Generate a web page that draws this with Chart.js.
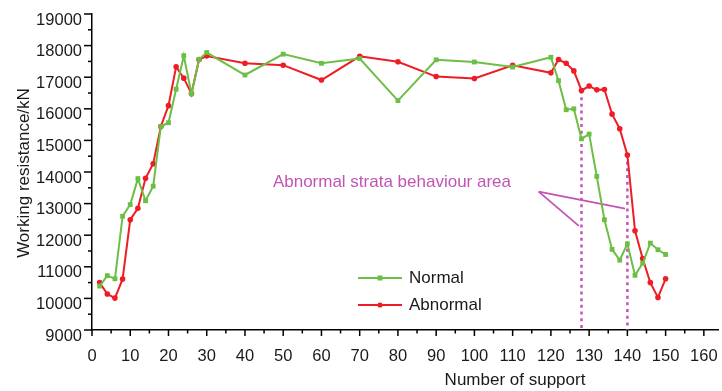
<!DOCTYPE html>
<html>
<head>
<meta charset="utf-8">
<script src="https://cdn.jsdelivr.net/npm/chart.js@4/dist/chart.umd.min.js"></script>
<style>
  html, body { margin: 0; padding: 0; background: #fff; }
  #wrap { width: 722px; height: 391px; }
</style>
</head>
<body>
<div id="wrap"><canvas id="supportChart" width="722" height="391"></canvas></div>
<script>
// support numbers (x) shared by both series
const supportNo = [2, 4, 6, 8, 10, 12, 14, 16, 18, 20, 22, 24, 26, 28, 30,
  40, 50, 60, 70, 80, 90, 100, 110, 120,
  122, 124, 126, 128, 130, 132, 134, 136, 138, 140, 142, 144, 146, 148, 150];

// working resistance, kN
const normalValues = [10390, 10720, 10620, 12600, 12970, 13790, 13090, 13550, 15440, 15560,
  16620, 17680, 16480, 17560, 17780,
  17070, 17730, 17440, 17590, 16260, 17550, 17480, 17320, 17630,
  16890, 15970, 16000, 15050, 15200, 13860, 12490, 11550, 11210, 11730,
  10730, 11110, 11750, 11540, 11390];
const abnormalValues = [10500, 10140, 10010, 10610, 12490, 12850, 13800, 14260, 15440, 16100,
  17330, 16970, 16480, 17560, 17670,
  17440, 17380, 16910, 17660, 17490, 17020, 16960, 17380, 17140,
  17560, 17440, 17200, 16580, 16720, 16600, 16610, 15830, 15370, 14540,
  12140, 11260, 10500, 10030, 10620];

// tick values
const xTicks = [0, 5, 10, 15, 20, 25, 30, 35, 40, 45, 50, 55, 60, 65, 70, 75, 80,
  85, 90, 95, 100, 105, 110, 115, 120, 125, 130, 135, 140, 145, 150, 155, 160];
const yTicks = [9000, 9500, 10000, 10500, 11000, 11500, 12000, 12500, 13000, 13500, 14000,
  14500, 15000, 15500, 16000, 16500, 17000, 17500, 18000, 18500, 19000];

// abnormal area markers (support numbers) and annotation text
const areaBounds = [128, 140];
const areaLabel = 'Abnormal strata behaviour area';
const labelAt = [47.3, 13670];
const pointerFrom = [116.8, 13380];
const pointerTo = [[139.4, 12843], [127.3, 12294]];

const seriesNames = ['Normal', 'Abnormal'];
const green = '#6cbe45';
const red = '#ee1c25';
const purple = '#c254b4';
const font17 = '17px "Liberation Sans", Arial, sans-serif';

const toXY = (vals) => vals.map((v, i) => ({ x: supportNo[i], y: v }));

Chart.defaults.font.family = '"Liberation Sans", Arial, sans-serif';
Chart.defaults.font.size = 16.5;
Chart.defaults.color = '#1a1a1a';

// tick marks, guides, legend and titles
const overlay = {
  id: 'overlay',
  beforeDatasetsDraw(chart) {
    const { ctx, scales: { x, y } } = chart;
    ctx.save();
    ctx.strokeStyle = purple;
    ctx.lineWidth = 2.5;
    ctx.setLineDash([3, 3.7]);
    areaBounds.forEach(b => {
      const idx = supportNo.indexOf(b);
      const px = x.getPixelForValue(b);
      ctx.beginPath();
      ctx.moveTo(px, y.getPixelForValue(abnormalValues[idx]));
      ctx.lineTo(px, y.getPixelForValue(9000));
      ctx.stroke();
    });
    ctx.setLineDash([]);
    ctx.lineWidth = 1.8;
    pointerTo.forEach(p => {
      ctx.beginPath();
      ctx.moveTo(x.getPixelForValue(pointerFrom[0]), y.getPixelForValue(pointerFrom[1]));
      ctx.lineTo(x.getPixelForValue(p[0]), y.getPixelForValue(p[1]));
      ctx.stroke();
    });
    ctx.restore();
  },
  afterDraw(chart) {
    const { ctx, scales: { x, y } } = chart;
    ctx.save();
    ctx.strokeStyle = '#000';
    ctx.lineWidth = 1.5;
    const y0 = y.getPixelForValue(9000);
    xTicks.forEach(t => {
      const px = x.getPixelForValue(t);
      ctx.beginPath();
      ctx.moveTo(px, y0);
      ctx.lineTo(px, y0 + (t % 10 === 0 ? 6 : 3.5));
      ctx.stroke();
    });
    const x0 = x.getPixelForValue(0);
    yTicks.forEach(t => {
      const py = y.getPixelForValue(t);
      ctx.beginPath();
      ctx.moveTo(x0, py);
      ctx.lineTo(x0 - (t % 1000 === 0 ? 8 : 4), py);
      ctx.stroke();
    });

    // annotation text
    ctx.fillStyle = purple;
    ctx.font = font17;
    ctx.textAlign = 'left';
    ctx.textBaseline = 'middle';
    ctx.fillText(areaLabel, x.getPixelForValue(labelAt[0]), y.getPixelForValue(labelAt[1]));

    // legend
    const items = [[green, 'rect'], [red, 'circle']];
    items.forEach((it, i) => {
      const ly = 278 + i * 27;
      ctx.strokeStyle = it[0];
      ctx.fillStyle = it[0];
      ctx.lineWidth = 2;
      ctx.beginPath();
      ctx.moveTo(358, ly);
      ctx.lineTo(402, ly);
      ctx.stroke();
      if (it[1] === 'rect') {
        ctx.fillRect(377.5, ly - 2.5, 5, 5);
      } else {
        ctx.beginPath();
        ctx.arc(380, ly, 2.6, 0, Math.PI * 2);
        ctx.fill();
      }
      ctx.fillStyle = '#1a1a1a';
      ctx.fillText(seriesNames[i], 409, ly);
    });

    // axis titles
    ctx.textAlign = 'center';
    ctx.fillText('Number of support', 515, 380);
    ctx.translate(24, 173);
    ctx.rotate(-Math.PI / 2);
    ctx.fillText('Working resistance/kN', 0, 0);
    ctx.restore();
  }
};

const data = {
  datasets: [{
    label: seriesNames[0],
    data: toXY(normalValues),
    borderColor: green,
    backgroundColor: green,
    borderWidth: 2,
    pointStyle: 'rect',
    pointRadius: 3.4,
    pointBorderWidth: 0,
    tension: 0
  },
  {
    label: seriesNames[1],
    data: toXY(abnormalValues),
    borderColor: red,
    backgroundColor: red,
    borderWidth: 2,
    pointStyle: 'circle',
    pointRadius: 2.8,
    pointBorderWidth: 0,
    tension: 0
  }]
};

const config = {
  type: 'line',
  data: data,
  options: {
    responsive: false,
    animation: false,
    layout: { padding: { top: 14, right: 0, bottom: 0, left: 0 } },
    plugins: {
      legend: { display: false },
      tooltip: { enabled: false }
    },
    scales: {
      x: {
        type: 'linear',
        min: 0,
        max: 163.7,
        afterBuildTicks: (scale) => { scale.ticks = xTicks.map(v => ({ value: v })); },
        afterFit: (scale) => {
          scale.height = 61;
          scale.paddingRight = 0;
          scale.paddingLeft = 0;
        },
        grid: { drawOnChartArea: false, drawTicks: false },
        border: { color: '#000', width: 1.5 },
        ticks: {
          padding: 17,
          maxRotation: 0,
          autoSkip: false,
          callback: (v) => (v % 10 === 0 ? v : '')
        }
      },
      y: {
        min: 9000,
        max: 19000,
        afterBuildTicks: (scale) => { scale.ticks = yTicks.map(v => ({ value: v })); },
        afterFit: (scale) => {
          scale.width = 92;
          scale.paddingTop = 0;
          scale.paddingBottom = 0;
        },
        grid: { drawOnChartArea: false, drawTicks: false },
        border: { color: '#000', width: 1.5 },
        ticks: {
          padding: 10,
          labelOffset: 6,
          autoSkip: false,
          callback: (v) => (v % 1000 === 0 ? v : '')
        }
      }
    }
  },
  plugins: [overlay]
};

const myChart = new Chart(document.getElementById('supportChart'), config);
</script>
</body>
</html>
